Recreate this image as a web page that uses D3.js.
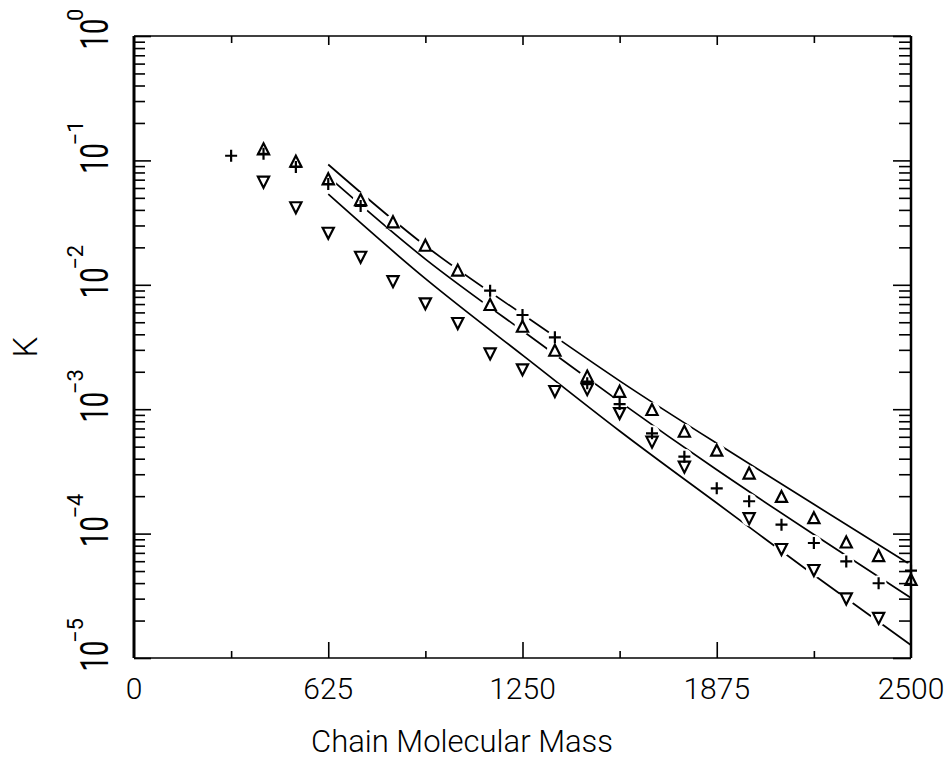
<!DOCTYPE html>
<html>
<head>
<meta charset="utf-8">
<script src="https://cdn.jsdelivr.net/npm/d3@7.9.0/dist/d3.min.js"></script>
<style>
  body { margin: 0; background: #fff; }
  svg { display: block; }
  text { font-family: Roboto, "DejaVu Sans", sans-serif; font-weight: 300; fill: #000; }
</style>
</head>
<body>
<div id="chart"></div>
<script>
// "+" series
const plusMass = [312.5, 416.7, 520.8, 625, 729.2, 1145.8, 1250, 1354.2,
  1458.3, 1562.5, 1666.7, 1770.8, 1875, 1979.2, 2083.3, 2187.5, 2291.7, 2395.8, 2500];
const plusK = [0.109, 0.113, 0.0885, 0.0646, 0.043, 0.00897, 0.00572, 0.00378,
  0.00162, 0.0011, 0.00064, 0.000415, 0.000231, 0.000182, 0.000118, 0.000084, 0.0000597, 0.0000399, 0.0000503];

// up triangles
const upMass = [416.7, 520.8, 625, 729.2, 833.3, 937.5, 1041.7, 1145.8, 1250, 1354.2,
  1458.3, 1562.5, 1666.7, 1770.8, 1875, 1979.2, 2083.3, 2187.5, 2291.7, 2395.8, 2500];
const upK = [0.1228, 0.0976, 0.0705, 0.048, 0.0318, 0.0206, 0.013, 0.00688, 0.0046, 0.00295,
  0.00183, 0.00138, 0.000985, 0.000659, 0.000464, 0.000304, 0.000197, 0.000133, 0.0000848, 0.000066, 0.0000424];

// down triangles
const downMass = [416.7, 520.8, 625, 729.2, 833.3, 937.5, 1041.7, 1145.8, 1250, 1354.2,
  1458.3, 1562.5, 1666.7, 1770.8, 1979.2, 2083.3, 2187.5, 2291.7, 2395.8];
const downK = [0.0674, 0.042, 0.0262, 0.0168, 0.0107, 0.0071, 0.00493, 0.00281, 0.00209, 0.0014,
  0.00145, 0.00093, 0.000548, 0.000345, 0.000133, 0.0000752, 0.000051, 0.0000301, 0.000021];

// fitted curves
const fitMass = [625, 937.5, 1250, 1562.5, 1875, 2187.5, 2500];
const fitUp = [0.0927, 0.0206, 0.0058, 0.00169, 0.000532, 0.000172, 0.0000559];
const fitPlus = [0.0741, 0.0161, 0.00427, 0.00115, 0.000326, 0.0000984, 0.0000304];
const fitDown = [0.0535, 0.0112, 0.00272, 0.000668, 0.000176, 0.0000465, 0.0000127];

// axes
const xTicks = [0, 625, 1250, 1875, 2500];
const xMinorTicks = [312.5, 937.5, 1562.5, 2187.5];
const yDecades = [1e-5, 1e-4, 1e-3, 1e-2, 1e-1, 1];
const yExponents = ['\u22125', '\u22124', '\u22123', '\u22122', '\u22121', '0'];

const width = 946, height = 762;
const x = d3.scaleLinear().domain([0, 2500]).range([134, 911]);
const y = d3.scaleLog().domain([1e-5, 1]).range([658, 36]);

const svg = d3.select('#chart').append('svg')
  .attr('width', width)
  .attr('height', height);

const plusPts = plusMass.map((m, i) => [m, plusK[i]]);
const upPts = upMass.map((m, i) => [m, upK[i]]);
const downPts = downMass.map((m, i) => [m, downK[i]]);

// fitted curves
const line = d3.line()
  .x(d => x(d[0]))
  .y(d => y(d[1]))
  .curve(d3.curveNatural);

[fitUp, fitPlus, fitDown].forEach(fit => {
  svg.append('path')
    .datum(fitMass.map((m, i) => [m, fit[i]]))
    .attr('fill', 'none')
    .attr('stroke', '#000')
    .attr('stroke-width', 1.7)
    .attr('d', line);
});

// the plotter leaves a gap in the lines round every marker
svg.append('g')
  .selectAll('circle')
  .data([...plusPts, ...upPts, ...downPts])
  .join('circle')
  .attr('cx', d => x(d[0]))
  .attr('cy', d => y(d[1]))
  .attr('r', 8)
  .attr('fill', '#fff');

// frame
const [x0, x1] = x.range();
const [y0, y1] = y.range();
svg.append('line').attr('x1', x0).attr('x2', x1).attr('y1', y1).attr('y2', y1)
  .attr('stroke', '#000').attr('stroke-width', 1.5);
svg.append('line').attr('x1', x0).attr('x2', x1).attr('y1', y0).attr('y2', y0)
  .attr('stroke', '#000').attr('stroke-width', 1.5);
svg.append('line').attr('x1', x0).attr('x2', x0).attr('y1', y1).attr('y2', y0)
  .attr('stroke', '#000').attr('stroke-width', 3);
svg.append('line').attr('x1', x1).attr('x2', x1).attr('y1', y1).attr('y2', y0)
  .attr('stroke', '#000').attr('stroke-width', 2.5);

// y ticks, inward on both sides
const yMinor = [];
yDecades.slice(0, -1).forEach(d => {
  for (let k = 2; k <= 9; k++) yMinor.push(d * k);
});

function tickAxis(axis, values, size) {
  const g = svg.append('g').call(axis.tickValues(values).tickSize(size).tickFormat(''));
  g.select('.domain').remove();
  g.selectAll('.tick line').attr('stroke-width', 1.6);
  return g;
}

tickAxis(d3.axisLeft(y), yDecades, -17).attr('transform', `translate(${x0},0)`);
tickAxis(d3.axisLeft(y), yMinor, -11).attr('transform', `translate(${x0},0)`);
tickAxis(d3.axisRight(y), yDecades, -18).attr('transform', `translate(${x1},0)`);
tickAxis(d3.axisRight(y), yMinor, -12).attr('transform', `translate(${x1},0)`);

// x ticks
tickAxis(d3.axisBottom(x), xTicks.slice(1, -1), -16).attr('transform', `translate(0,${y0})`);
tickAxis(d3.axisBottom(x), xMinorTicks, -7).attr('transform', `translate(0,${y0})`);
tickAxis(d3.axisTop(x), xTicks.slice(1, -1), -9).attr('transform', `translate(0,${y1})`);
tickAxis(d3.axisTop(x), xMinorTicks, -7).attr('transform', `translate(0,${y1})`);

// markers
const markers = svg.append('g')
  .attr('fill', 'none')
  .attr('stroke', '#000')
  .attr('stroke-width', 2.2);

markers.selectAll('path.up')
  .data(upPts)
  .join('path')
  .attr('class', 'up')
  .attr('transform', d => `translate(${x(d[0])},${y(d[1])})`)
  .attr('d', 'M0,-6L5.6,5L-5.6,5Z');

markers.selectAll('path.down')
  .data(downPts)
  .join('path')
  .attr('class', 'down')
  .attr('transform', d => `translate(${x(d[0])},${y(d[1])})`)
  .attr('d', 'M0,6L5.6,-5L-5.6,-5Z');

markers.selectAll('path.plus')
  .data(plusPts)
  .join('path')
  .attr('class', 'plus')
  .attr('transform', d => `translate(${x(d[0])},${y(d[1])})`)
  .attr('d', 'M-6,0H6M0,-6V6');

// x tick labels
svg.append('g')
  .selectAll('text')
  .data(xTicks)
  .join('text')
  .attr('x', d => x(d))
  .attr('y', 699)
  .attr('text-anchor', 'middle')
  .attr('font-size', 30)
  .text(d => d);

// y tick labels: 10 with a raised exponent, turned to read upward
const yLab = svg.append('g')
  .selectAll('g')
  .data(yDecades)
  .join('g')
  .attr('transform', d => `translate(108,${y(d)}) rotate(-90)`);

yLab.append('text')
  .attr('transform', 'translate(2,0) scale(0.72,1)')
  .attr('text-anchor', 'middle')
  .attr('font-size', 38)
  .style('font-weight', 400)
  .text('10');

yLab.append('text')
  .attr('x', 15)
  .attr('y', -25)
  .attr('font-size', 22)
  .style('font-weight', 400)
  .text((d, i) => yExponents[i]);

// axis titles
svg.append('text')
  .attr('transform', 'translate(37,347) rotate(-90)')
  .attr('text-anchor', 'middle')
  .attr('font-size', 33)
  .text('K');

svg.append('text')
  .attr('x', 462)
  .attr('y', 752)
  .attr('text-anchor', 'middle')
  .attr('font-size', 31)
  .text('Chain Molecular Mass');
</script>
</body>
</html>
